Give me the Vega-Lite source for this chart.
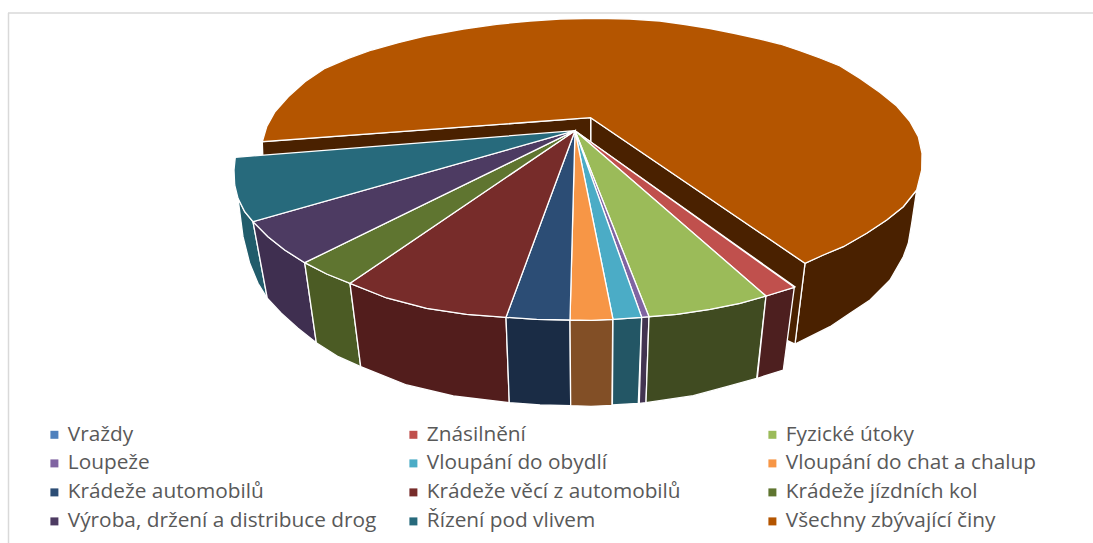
{"$schema":"https://vega.github.io/schema/vega-lite/v6.json","width":1093,"height":543,"padding":0,"autosize":{"type":"none"},"background":"#ffffff","view":{"stroke":null},
"datasets":{
"ramecek":[{"x":8,"y":13,"x2":1093,"y2":13},{"x":8.5,"y":13,"x2":8.5,"y2":543}],
"boky":[
{"cin":"Všechny zbývající činy","kus":"vnější","x":805,"y":263.3},{"cin":"Všechny zbývající činy","kus":"vnější","x":823.3,"y":255},{"cin":"Všechny zbývající činy","kus":"vnější","x":843.3,"y":246.7},{"cin":"Všechny zbývající činy","kus":"vnější","x":866.7,"y":233.3},{"cin":"Všechny zbývající činy","kus":"vnější","x":886.7,"y":220},{"cin":"Všechny zbývající činy","kus":"vnější","x":903.3,"y":206.7},{"cin":"Všechny zbývající činy","kus":"vnější","x":916.7,"y":190},{"cin":"Všechny zbývající činy","kus":"vnější","x":911.7,"y":223.3},{"cin":"Všechny zbývající činy","kus":"vnější","x":908.3,"y":243.3},{"cin":"Všechny zbývající činy","kus":"vnější","x":903.3,"y":256.7},{"cin":"Všechny zbývající činy","kus":"vnější","x":890,"y":280},{"cin":"Všechny zbývající činy","kus":"vnější","x":870,"y":300},{"cin":"Všechny zbývající činy","kus":"vnější","x":850,"y":313.3},{"cin":"Všechny zbývající činy","kus":"vnější","x":830,"y":326.7},{"cin":"Všechny zbývající činy","kus":"vnější","x":810,"y":336.7},{"cin":"Všechny zbývající činy","kus":"vnější","x":795,"y":344},
{"cin":"Všechny zbývající činy","kus":"řez2","x":590.7,"y":117.7},{"cin":"Všechny zbývající činy","kus":"řez2","x":805,"y":263.3},{"cin":"Všechny zbývající činy","kus":"řez2","x":795,"y":344},{"cin":"Všechny zbývající činy","kus":"řez2","x":780,"y":337},{"cin":"Všechny zbývající činy","kus":"řez2","x":590.7,"y":200},
{"cin":"Všechny zbývající činy","kus":"řez1","x":262.3,"y":141.7},{"cin":"Všechny zbývající činy","kus":"řez1","x":590.7,"y":117.7},{"cin":"Všechny zbývající činy","kus":"řez1","x":590.7,"y":200},{"cin":"Všechny zbývající činy","kus":"řez1","x":264,"y":190},
{"cin":"Řízení pod vlivem","kus":"a","x":238,"y":198.3},{"cin":"Řízení pod vlivem","kus":"a","x":244.7,"y":211.7},{"cin":"Řízení pod vlivem","kus":"a","x":253,"y":221.7},{"cin":"Řízení pod vlivem","kus":"a","x":267.3,"y":298.3},{"cin":"Řízení pod vlivem","kus":"a","x":258,"y":283.3},{"cin":"Řízení pod vlivem","kus":"a","x":249.7,"y":263.3},{"cin":"Řízení pod vlivem","kus":"a","x":243,"y":236.7},
{"cin":"Výroba, držení a distribuce drog","kus":"a","x":253,"y":221.7},{"cin":"Výroba, držení a distribuce drog","kus":"a","x":268,"y":236.7},{"cin":"Výroba, držení a distribuce drog","kus":"a","x":284.7,"y":250},{"cin":"Výroba, držení a distribuce drog","kus":"a","x":304.7,"y":262.7},{"cin":"Výroba, držení a distribuce drog","kus":"a","x":316.3,"y":342.7},{"cin":"Výroba, držení a distribuce drog","kus":"a","x":298,"y":328.3},{"cin":"Výroba, držení a distribuce drog","kus":"a","x":281.3,"y":313.3},{"cin":"Výroba, držení a distribuce drog","kus":"a","x":267.3,"y":298.3},
{"cin":"Krádeže jízdních kol","kus":"a","x":304.7,"y":262.7},{"cin":"Krádeže jízdních kol","kus":"a","x":326.7,"y":274},{"cin":"Krádeže jízdních kol","kus":"a","x":350,"y":283.3},{"cin":"Krádeže jízdních kol","kus":"a","x":360.7,"y":366.7},{"cin":"Krádeže jízdních kol","kus":"a","x":338.3,"y":356.7},{"cin":"Krádeže jízdních kol","kus":"a","x":316.3,"y":342.7},
{"cin":"Krádeže věcí z automobilů","kus":"a","x":350,"y":283.3},{"cin":"Krádeže věcí z automobilů","kus":"a","x":386.7,"y":298},{"cin":"Krádeže věcí z automobilů","kus":"a","x":426.7,"y":308.3},{"cin":"Krádeže věcí z automobilů","kus":"a","x":466.7,"y":314.3},{"cin":"Krádeže věcí z automobilů","kus":"a","x":506,"y":317.3},{"cin":"Krádeže věcí z automobilů","kus":"a","x":509.3,"y":402.7},{"cin":"Krádeže věcí z automobilů","kus":"a","x":453.3,"y":396},{"cin":"Krádeže věcí z automobilů","kus":"a","x":406.7,"y":385},{"cin":"Krádeže věcí z automobilů","kus":"a","x":360.7,"y":366.7},
{"cin":"Krádeže automobilů","kus":"a","x":506,"y":317.3},{"cin":"Krádeže automobilů","kus":"a","x":536.7,"y":319.3},{"cin":"Krádeže automobilů","kus":"a","x":570,"y":320},{"cin":"Krádeže automobilů","kus":"a","x":570.7,"y":405.7},{"cin":"Krádeže automobilů","kus":"a","x":540,"y":405},{"cin":"Krádeže automobilů","kus":"a","x":509.3,"y":402.7},
{"cin":"Vloupání do chat a chalup","kus":"a","x":570,"y":320},{"cin":"Vloupání do chat a chalup","kus":"a","x":591,"y":320.3},{"cin":"Vloupání do chat a chalup","kus":"a","x":612.7,"y":319.3},{"cin":"Vloupání do chat a chalup","kus":"a","x":612,"y":405.5},{"cin":"Vloupání do chat a chalup","kus":"a","x":591,"y":406.3},{"cin":"Vloupání do chat a chalup","kus":"a","x":570.7,"y":405.7},
{"cin":"Vloupání do obydlí","kus":"a","x":613,"y":319.3},{"cin":"Vloupání do obydlí","kus":"a","x":641.7,"y":317.3},{"cin":"Vloupání do obydlí","kus":"a","x":638.3,"y":403.3},{"cin":"Vloupání do obydlí","kus":"a","x":612.4,"y":405},
{"cin":"Loupeže","kus":"a","x":641.7,"y":317.3},{"cin":"Loupeže","kus":"a","x":649,"y":316.7},{"cin":"Loupeže","kus":"a","x":646,"y":402.7},{"cin":"Loupeže","kus":"a","x":639.3,"y":403.3},
{"cin":"Fyzické útoky","kus":"a","x":649,"y":316.7},{"cin":"Fyzické útoky","kus":"a","x":676.7,"y":314.3},{"cin":"Fyzické útoky","kus":"a","x":710,"y":309.3},{"cin":"Fyzické útoky","kus":"a","x":740,"y":303.3},{"cin":"Fyzické útoky","kus":"a","x":766,"y":296},{"cin":"Fyzické útoky","kus":"a","x":756.7,"y":378.3},{"cin":"Fyzické útoky","kus":"a","x":726.7,"y":386.7},{"cin":"Fyzické útoky","kus":"a","x":693.3,"y":395.7},{"cin":"Fyzické útoky","kus":"a","x":646,"y":402.7},
{"cin":"Znásilnění","kus":"a","x":766,"y":296},{"cin":"Znásilnění","kus":"a","x":794.3,"y":287.3},{"cin":"Znásilnění","kus":"a","x":783.3,"y":370},{"cin":"Znásilnění","kus":"a","x":757.3,"y":378.3}
],
"vrchy":[
{"cin":"Všechny zbývající činy","x":590.7,"y":117.7},{"cin":"Všechny zbývající činy","x":805,"y":263.3},{"cin":"Všechny zbývající činy","x":823.3,"y":255},{"cin":"Všechny zbývající činy","x":843.3,"y":246.7},{"cin":"Všechny zbývající činy","x":866.7,"y":233.3},{"cin":"Všechny zbývající činy","x":886.7,"y":220},{"cin":"Všechny zbývající činy","x":903.3,"y":206.7},{"cin":"Všechny zbývající činy","x":916.7,"y":190},{"cin":"Všechny zbývající činy","x":921.7,"y":170},{"cin":"Všechny zbývající činy","x":922,"y":153.3},{"cin":"Všechny zbývající činy","x":918.3,"y":136.7},{"cin":"Všechny zbývající činy","x":910,"y":121.7},{"cin":"Všechny zbývající činy","x":896.7,"y":106},{"cin":"Všechny zbývající činy","x":880,"y":92.5},{"cin":"Všechny zbývající činy","x":860,"y":78.5},{"cin":"Všechny zbývající činy","x":840,"y":66},{"cin":"Všechny zbývající činy","x":820,"y":58},{"cin":"Všechny zbývající činy","x":800,"y":50.7},{"cin":"Všechny zbývající činy","x":780,"y":44},{"cin":"Všechny zbývající činy","x":760,"y":39},{"cin":"Všechny zbývající činy","x":735,"y":33.5},{"cin":"Všechny zbývající činy","x":710,"y":28.5},{"cin":"Všechny zbývající činy","x":685,"y":24.5},{"cin":"Všechny zbývající činy","x":660,"y":21},{"cin":"Všechny zbývající činy","x":630,"y":19},{"cin":"Všechny zbývající činy","x":596.7,"y":18.3},{"cin":"Všechny zbývající činy","x":560,"y":19},{"cin":"Všechny zbývající činy","x":530,"y":21},{"cin":"Všechny zbývající činy","x":496.7,"y":24.3},{"cin":"Všechny zbývající činy","x":463.3,"y":29},{"cin":"Všechny zbývající činy","x":425,"y":36},{"cin":"Všechny zbývající činy","x":398.3,"y":42.7},{"cin":"Všechny zbývající činy","x":371.7,"y":50},{"cin":"Všechny zbývající činy","x":348.3,"y":58.3},{"cin":"Všechny zbývající činy","x":325,"y":68.3},{"cin":"Všechny zbývající činy","x":305,"y":81.7},{"cin":"Všechny zbývající činy","x":288.3,"y":96.7},{"cin":"Všechny zbývající činy","x":275,"y":111.7},{"cin":"Všechny zbývající činy","x":266.7,"y":126.7},{"cin":"Všechny zbývající činy","x":262.3,"y":141.7},
{"cin":"Vraždy","x":575,"y":130.7},{"cin":"Vraždy","x":794.6,"y":287},{"cin":"Vraždy","x":794.9,"y":286.8},
{"cin":"Znásilnění","x":575,"y":130.7},{"cin":"Znásilnění","x":794.3,"y":287.3},{"cin":"Znásilnění","x":766,"y":296},
{"cin":"Fyzické útoky","x":575,"y":130.7},{"cin":"Fyzické útoky","x":766,"y":296},{"cin":"Fyzické útoky","x":740,"y":303.3},{"cin":"Fyzické útoky","x":710,"y":309.3},{"cin":"Fyzické útoky","x":676.7,"y":314.3},{"cin":"Fyzické útoky","x":649,"y":316.7},
{"cin":"Loupeže","x":575,"y":130.7},{"cin":"Loupeže","x":649,"y":316.7},{"cin":"Loupeže","x":641.7,"y":317.3},
{"cin":"Vloupání do obydlí","x":575,"y":130.7},{"cin":"Vloupání do obydlí","x":641.7,"y":317.3},{"cin":"Vloupání do obydlí","x":613,"y":319.3},
{"cin":"Vloupání do chat a chalup","x":575,"y":130.7},{"cin":"Vloupání do chat a chalup","x":613,"y":319.3},{"cin":"Vloupání do chat a chalup","x":591,"y":320.3},{"cin":"Vloupání do chat a chalup","x":570,"y":320},
{"cin":"Krádeže automobilů","x":575,"y":130.7},{"cin":"Krádeže automobilů","x":570,"y":320},{"cin":"Krádeže automobilů","x":536.7,"y":319.3},{"cin":"Krádeže automobilů","x":506,"y":317.3},
{"cin":"Krádeže věcí z automobilů","x":575,"y":130.7},{"cin":"Krádeže věcí z automobilů","x":506,"y":317.3},{"cin":"Krádeže věcí z automobilů","x":466.7,"y":314.3},{"cin":"Krádeže věcí z automobilů","x":426.7,"y":308.3},{"cin":"Krádeže věcí z automobilů","x":386.7,"y":298},{"cin":"Krádeže věcí z automobilů","x":350,"y":283.3},
{"cin":"Krádeže jízdních kol","x":575,"y":130.7},{"cin":"Krádeže jízdních kol","x":350,"y":283.3},{"cin":"Krádeže jízdních kol","x":326.7,"y":274},{"cin":"Krádeže jízdních kol","x":304.7,"y":262.7},
{"cin":"Výroba, držení a distribuce drog","x":575,"y":130.7},{"cin":"Výroba, držení a distribuce drog","x":304.7,"y":262.7},{"cin":"Výroba, držení a distribuce drog","x":284.7,"y":250},{"cin":"Výroba, držení a distribuce drog","x":268,"y":236.7},{"cin":"Výroba, držení a distribuce drog","x":253,"y":221.7},
{"cin":"Řízení pod vlivem","x":575,"y":130.7},{"cin":"Řízení pod vlivem","x":253,"y":221.7},{"cin":"Řízení pod vlivem","x":244.7,"y":211.7},{"cin":"Řízení pod vlivem","x":238,"y":198.3},{"cin":"Řízení pod vlivem","x":234.7,"y":185},{"cin":"Řízení pod vlivem","x":234,"y":170},{"cin":"Řízení pod vlivem","x":235.3,"y":157.3}
]},
"layer":[
{"data":{"name":"ramecek"},"mark":{"type":"rule","color":"#d9d9d9","strokeWidth":1.5},"encoding":{"x":{"field":"x","type":"quantitative","scale":{"domain":[0,1093],"nice":false,"zero":false},"axis":null},"y":{"field":"y","type":"quantitative","scale":{"domain":[543,0],"nice":false,"zero":false},"axis":null},"x2":{"field":"x2"},"y2":{"field":"y2"}}},
{"data":{"name":"boky"},"transform":[{"window":[{"op":"row_number","as":"poradi"}]}],"mark":{"type":"line","filled":true,"interpolate":"linear-closed","stroke":"#ffffff","strokeWidth":1.3},"encoding":{"x":{"field":"x","type":"quantitative","scale":{"domain":[0,1093],"nice":false,"zero":false},"axis":null},"y":{"field":"y","type":"quantitative","scale":{"domain":[543,0],"nice":false,"zero":false},"axis":null},"detail":{"field":"kus"},"order":{"field":"poradi","type":"quantitative"},"fill":{"field":"cin","type":"nominal","legend":null,"sort":null,"scale":{"domain":["Znásilnění","Fyzické útoky","Loupeže","Vloupání do obydlí","Vloupání do chat a chalup","Krádeže automobilů","Krádeže věcí z automobilů","Krádeže jízdních kol","Výroba, držení a distribuce drog","Řízení pod vlivem","Všechny zbývající činy"],"range":["#4d1f1f","#404b21","#433451","#235665","#824f26","#1a2c45","#521d1c","#4b5b24","#3f2f50","#215c6b","#4a2100"]}}}},
{"data":{"name":"vrchy"},"transform":[{"window":[{"op":"row_number","as":"poradi"}]}],"mark":{"type":"line","filled":true,"interpolate":"linear-closed","stroke":"#ffffff","strokeWidth":1.3},"encoding":{"x":{"field":"x","type":"quantitative","scale":{"domain":[0,1093],"nice":false,"zero":false},"axis":null},"y":{"field":"y","type":"quantitative","scale":{"domain":[543,0],"nice":false,"zero":false},"axis":null},"order":{"field":"poradi","type":"quantitative"},"fill":{"field":"cin","type":"nominal","sort":null,"scale":{"domain":["Vraždy","Znásilnění","Fyzické útoky","Loupeže","Vloupání do obydlí","Vloupání do chat a chalup","Krádeže automobilů","Krádeže věcí z automobilů","Krádeže jízdních kol","Výroba, držení a distribuce drog","Řízení pod vlivem","Všechny zbývající činy"],"range":["#4f81bd","#c0504d","#9bbb59","#8064a2","#4bacc6","#f79646","#2c4d75","#772c2a","#5f7530","#4d3b62","#276a7c","#b45500"]},"legend":{"title":null,"orient":"none","legendX":44,"legendY":424,"columns":3,"direction":"horizontal","gridAlign":"all","columnPadding":26,"rowPadding":7,"symbolType":"square","symbolSize":64,"symbolStrokeWidth":0,"labelFont":"Open Sans","labelFontSize":20.8,"labelColor":"#595959","labelLimit":400,"labelOffset":3}}}}
],
"resolve":{"scale":{"fill":"independent"}}}
